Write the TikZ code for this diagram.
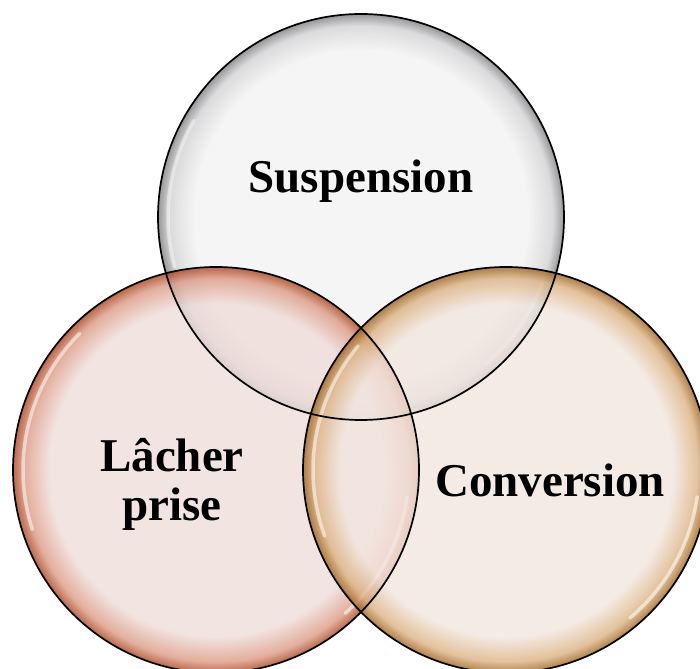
\documentclass[tikz,border=0pt]{standalone}
\usepackage{fontspec}
\setmainfont{Liberation Serif}
\definecolor{susIn}{HTML}{F3F3F4}
\definecolor{susMid}{HTML}{D2D2D4}
\definecolor{susEdge}{HTML}{7E7E80}
\definecolor{lacIn}{HTML}{EFDDDA}
\definecolor{lacMid}{HTML}{DC9A84}
\definecolor{lacEdge}{HTML}{A8431F}
\definecolor{conIn}{HTML}{F2E6DF}
\definecolor{conMid}{HTML}{DCB282}
\definecolor{conEdge}{HTML}{9C6120}
\pgfdeclareradialshading{shSus}{\pgfpoint{0bp}{0bp}}{color(0bp)=(susIn); color(20.5bp)=(susIn); color(23.6bp)=(susMid); color(25bp)=(susEdge); color(50bp)=(susEdge)}
\pgfdeclareradialshading{shLac}{\pgfpoint{0bp}{0bp}}{color(0bp)=(lacIn); color(20.5bp)=(lacIn); color(23.6bp)=(lacMid); color(25bp)=(lacEdge); color(50bp)=(lacEdge)}
\pgfdeclareradialshading{shCon}{\pgfpoint{0bp}{0bp}}{color(0bp)=(conIn); color(20.5bp)=(conIn); color(23.6bp)=(conMid); color(25bp)=(conEdge); color(50bp)=(conEdge)}
\tikzset{
  bubble/.style={circle, minimum size=406pt, inner sep=0pt, outer sep=0pt, fill opacity=0.8},
  rim/.style={draw=black, line width=1.7pt},
  gloss/.style={white, line width=3.5pt, draw opacity=0.55, line cap=round},
  label/.style={font=\fontsize{47}{49}\selectfont\bfseries, text=black, inner sep=0pt, align=center}
}
\begin{document}
\begin{tikzpicture}[x=1pt,y=1pt]
\useasboundingbox (0,0) rectangle (700,668);
\begin{scope}
\clip (0,0) rectangle (700,668);
\node[bubble, shading=shSus] (sus) at (361,451) {};
\draw[gloss, draw opacity=0.45] ([shift={(150:193)}]sus.center) arc (150:195:193);
\draw[gloss, draw opacity=0.4] ([shift={(-20:193)}]sus.center) arc (-20:-50:193);
\node[bubble, shading=shLac] (lac) at (216,198) {};
\draw[gloss] ([shift={(135:193)}]lac.center) arc (135:198:193);
\draw[gloss] ([shift={(-8:193)}]lac.center) arc (-8:-48:193);
\node[bubble, shading=shCon] (con) at (506,198) {};
\draw[gloss] ([shift={(140:193)}]con.center) arc (140:200:193);
\draw[gloss] ([shift={(-8:193)}]con.center) arc (-8:-50:193);
\draw[rim] (sus.center) circle[radius=203];
\draw[rim] (lac.center) circle[radius=203];
\draw[rim] (con.center) circle[radius=203];
\end{scope}
\node[label, anchor=base] (tsus) at (361,475) {Suspension};
\node[label, anchor=base] (tlac) at (172,147) {Lâcher\\prise};
\node[label, anchor=base] (tcon) at (550,171) {Conversion};
\end{tikzpicture}
\end{document}
